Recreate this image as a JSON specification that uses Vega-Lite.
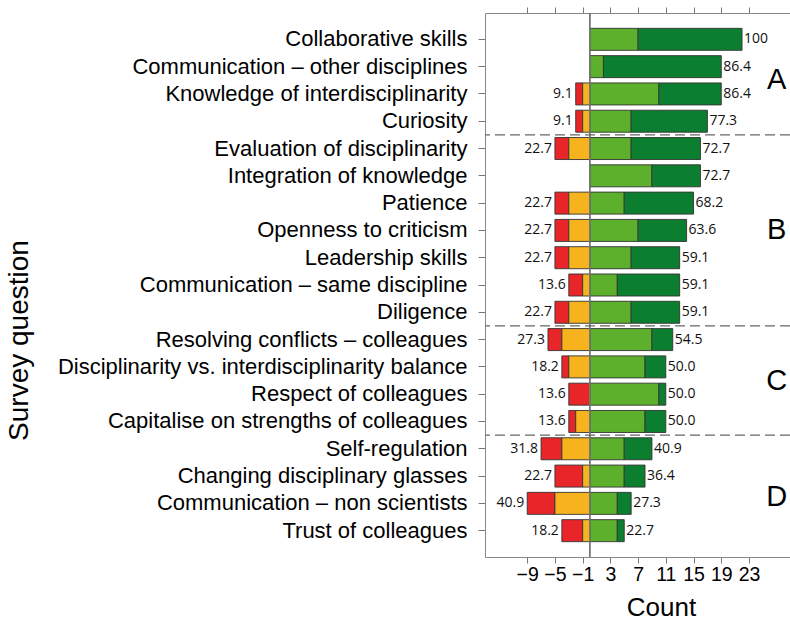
{
  "$schema": "https://vega.github.io/schema/vega-lite/v6.json",
  "width": 305,
  "height": 544,
  "autosize": {"type": "none"},
  "padding": {"left": 485, "top": 13, "right": 0, "bottom": 64},
  "config": {
    "view": {"stroke": null},
    "font": "Liberation Sans",
    "axis": {"grid": false}
  },
  "resolve": {"axis": {"x": "independent"}},
  "datasets": {
    "responses": [
      {"question": "Collaborative skills", "response": "Agree", "intensity": 1, "value": 7},
      {"question": "Collaborative skills", "response": "Strongly agree", "intensity": 2, "value": 15},
      {"question": "Communication – other disciplines", "response": "Agree", "intensity": 1, "value": 2},
      {"question": "Communication – other disciplines", "response": "Strongly agree", "intensity": 2, "value": 17},
      {"question": "Knowledge of interdisciplinarity", "response": "Strongly disagree", "intensity": 2, "value": -1},
      {"question": "Knowledge of interdisciplinarity", "response": "Disagree", "intensity": 1, "value": -1},
      {"question": "Knowledge of interdisciplinarity", "response": "Agree", "intensity": 1, "value": 10},
      {"question": "Knowledge of interdisciplinarity", "response": "Strongly agree", "intensity": 2, "value": 9},
      {"question": "Curiosity", "response": "Strongly disagree", "intensity": 2, "value": -1},
      {"question": "Curiosity", "response": "Disagree", "intensity": 1, "value": -1},
      {"question": "Curiosity", "response": "Agree", "intensity": 1, "value": 6},
      {"question": "Curiosity", "response": "Strongly agree", "intensity": 2, "value": 11},
      {"question": "Evaluation of disciplinarity", "response": "Strongly disagree", "intensity": 2, "value": -2},
      {"question": "Evaluation of disciplinarity", "response": "Disagree", "intensity": 1, "value": -3},
      {"question": "Evaluation of disciplinarity", "response": "Agree", "intensity": 1, "value": 6},
      {"question": "Evaluation of disciplinarity", "response": "Strongly agree", "intensity": 2, "value": 10},
      {"question": "Integration of knowledge", "response": "Agree", "intensity": 1, "value": 9},
      {"question": "Integration of knowledge", "response": "Strongly agree", "intensity": 2, "value": 7},
      {"question": "Patience", "response": "Strongly disagree", "intensity": 2, "value": -2},
      {"question": "Patience", "response": "Disagree", "intensity": 1, "value": -3},
      {"question": "Patience", "response": "Agree", "intensity": 1, "value": 5},
      {"question": "Patience", "response": "Strongly agree", "intensity": 2, "value": 10},
      {"question": "Openness to criticism", "response": "Strongly disagree", "intensity": 2, "value": -2},
      {"question": "Openness to criticism", "response": "Disagree", "intensity": 1, "value": -3},
      {"question": "Openness to criticism", "response": "Agree", "intensity": 1, "value": 7},
      {"question": "Openness to criticism", "response": "Strongly agree", "intensity": 2, "value": 7},
      {"question": "Leadership skills", "response": "Strongly disagree", "intensity": 2, "value": -2},
      {"question": "Leadership skills", "response": "Disagree", "intensity": 1, "value": -3},
      {"question": "Leadership skills", "response": "Agree", "intensity": 1, "value": 6},
      {"question": "Leadership skills", "response": "Strongly agree", "intensity": 2, "value": 7},
      {"question": "Communication – same discipline", "response": "Strongly disagree", "intensity": 2, "value": -2},
      {"question": "Communication – same discipline", "response": "Disagree", "intensity": 1, "value": -1},
      {"question": "Communication – same discipline", "response": "Agree", "intensity": 1, "value": 4},
      {"question": "Communication – same discipline", "response": "Strongly agree", "intensity": 2, "value": 9},
      {"question": "Diligence", "response": "Strongly disagree", "intensity": 2, "value": -2},
      {"question": "Diligence", "response": "Disagree", "intensity": 1, "value": -3},
      {"question": "Diligence", "response": "Agree", "intensity": 1, "value": 6},
      {"question": "Diligence", "response": "Strongly agree", "intensity": 2, "value": 7},
      {"question": "Resolving conflicts – colleagues", "response": "Strongly disagree", "intensity": 2, "value": -2},
      {"question": "Resolving conflicts – colleagues", "response": "Disagree", "intensity": 1, "value": -4},
      {"question": "Resolving conflicts – colleagues", "response": "Agree", "intensity": 1, "value": 9},
      {"question": "Resolving conflicts – colleagues", "response": "Strongly agree", "intensity": 2, "value": 3},
      {"question": "Disciplinarity vs. interdisciplinarity balance", "response": "Strongly disagree", "intensity": 2, "value": -1},
      {"question": "Disciplinarity vs. interdisciplinarity balance", "response": "Disagree", "intensity": 1, "value": -3},
      {"question": "Disciplinarity vs. interdisciplinarity balance", "response": "Agree", "intensity": 1, "value": 8},
      {"question": "Disciplinarity vs. interdisciplinarity balance", "response": "Strongly agree", "intensity": 2, "value": 3},
      {"question": "Respect of colleagues", "response": "Strongly disagree", "intensity": 2, "value": -3},
      {"question": "Respect of colleagues", "response": "Agree", "intensity": 1, "value": 10},
      {"question": "Respect of colleagues", "response": "Strongly agree", "intensity": 2, "value": 1},
      {"question": "Capitalise on strengths of colleagues", "response": "Strongly disagree", "intensity": 2, "value": -1},
      {"question": "Capitalise on strengths of colleagues", "response": "Disagree", "intensity": 1, "value": -2},
      {"question": "Capitalise on strengths of colleagues", "response": "Agree", "intensity": 1, "value": 8},
      {"question": "Capitalise on strengths of colleagues", "response": "Strongly agree", "intensity": 2, "value": 3},
      {"question": "Self-regulation", "response": "Strongly disagree", "intensity": 2, "value": -3},
      {"question": "Self-regulation", "response": "Disagree", "intensity": 1, "value": -4},
      {"question": "Self-regulation", "response": "Agree", "intensity": 1, "value": 5},
      {"question": "Self-regulation", "response": "Strongly agree", "intensity": 2, "value": 4},
      {"question": "Changing disciplinary glasses", "response": "Strongly disagree", "intensity": 2, "value": -4},
      {"question": "Changing disciplinary glasses", "response": "Disagree", "intensity": 1, "value": -1},
      {"question": "Changing disciplinary glasses", "response": "Agree", "intensity": 1, "value": 5},
      {"question": "Changing disciplinary glasses", "response": "Strongly agree", "intensity": 2, "value": 3},
      {"question": "Communication – non scientists", "response": "Strongly disagree", "intensity": 2, "value": -4},
      {"question": "Communication – non scientists", "response": "Disagree", "intensity": 1, "value": -5},
      {"question": "Communication – non scientists", "response": "Agree", "intensity": 1, "value": 4},
      {"question": "Communication – non scientists", "response": "Strongly agree", "intensity": 2, "value": 2},
      {"question": "Trust of colleagues", "response": "Strongly disagree", "intensity": 2, "value": -3},
      {"question": "Trust of colleagues", "response": "Disagree", "intensity": 1, "value": -1},
      {"question": "Trust of colleagues", "response": "Agree", "intensity": 1, "value": 4},
      {"question": "Trust of colleagues", "response": "Strongly agree", "intensity": 2, "value": 1}
    ],
    "summary": [
      {"question": "Collaborative skills", "disagree": 0, "agree": 22, "disagreePct": null, "agreePct": "100"},
      {"question": "Communication – other disciplines", "disagree": 0, "agree": 19, "disagreePct": null, "agreePct": "86.4"},
      {"question": "Knowledge of interdisciplinarity", "disagree": -2, "agree": 19, "disagreePct": "9.1", "agreePct": "86.4"},
      {"question": "Curiosity", "disagree": -2, "agree": 17, "disagreePct": "9.1", "agreePct": "77.3"},
      {"question": "Evaluation of disciplinarity", "disagree": -5, "agree": 16, "disagreePct": "22.7", "agreePct": "72.7"},
      {"question": "Integration of knowledge", "disagree": 0, "agree": 16, "disagreePct": null, "agreePct": "72.7"},
      {"question": "Patience", "disagree": -5, "agree": 15, "disagreePct": "22.7", "agreePct": "68.2"},
      {"question": "Openness to criticism", "disagree": -5, "agree": 14, "disagreePct": "22.7", "agreePct": "63.6"},
      {"question": "Leadership skills", "disagree": -5, "agree": 13, "disagreePct": "22.7", "agreePct": "59.1"},
      {"question": "Communication – same discipline", "disagree": -3, "agree": 13, "disagreePct": "13.6", "agreePct": "59.1"},
      {"question": "Diligence", "disagree": -5, "agree": 13, "disagreePct": "22.7", "agreePct": "59.1"},
      {"question": "Resolving conflicts – colleagues", "disagree": -6, "agree": 12, "disagreePct": "27.3", "agreePct": "54.5"},
      {"question": "Disciplinarity vs. interdisciplinarity balance", "disagree": -4, "agree": 11, "disagreePct": "18.2", "agreePct": "50.0"},
      {"question": "Respect of colleagues", "disagree": -3, "agree": 11, "disagreePct": "13.6", "agreePct": "50.0"},
      {"question": "Capitalise on strengths of colleagues", "disagree": -3, "agree": 11, "disagreePct": "13.6", "agreePct": "50.0"},
      {"question": "Self-regulation", "disagree": -7, "agree": 9, "disagreePct": "31.8", "agreePct": "40.9"},
      {"question": "Changing disciplinary glasses", "disagree": -5, "agree": 8, "disagreePct": "22.7", "agreePct": "36.4"},
      {"question": "Communication – non scientists", "disagree": -9, "agree": 6, "disagreePct": "40.9", "agreePct": "27.3"},
      {"question": "Trust of colleagues", "disagree": -4, "agree": 5, "disagreePct": "18.2", "agreePct": "22.7"}
    ],
    "separators": [
      {"question": "Evaluation of disciplinarity"},
      {"question": "Resolving conflicts – colleagues"},
      {"question": "Self-regulation"}
    ],
    "groups": [
      {"letter": "A", "question": "Knowledge of interdisciplinarity"},
      {"letter": "B", "question": "Openness to criticism"},
      {"letter": "C", "question": "Respect of colleagues"},
      {"letter": "D", "question": "Communication – non scientists"}
    ]
  },
  "encoding": {
    "y": {
      "field": "question",
      "type": "nominal",
      "scale": {
        "domain": ["Collaborative skills", "Communication – other disciplines", "Knowledge of interdisciplinarity", "Curiosity", "Evaluation of disciplinarity", "Integration of knowledge", "Patience", "Openness to criticism", "Leadership skills", "Communication – same discipline", "Diligence", "Resolving conflicts – colleagues", "Disciplinarity vs. interdisciplinarity balance", "Respect of colleagues", "Capitalise on strengths of colleagues", "Self-regulation", "Changing disciplinary glasses", "Communication – non scientists", "Trust of colleagues"],
        "paddingInner": 0,
        "paddingOuter": 0.465
      },
      "axis": {
        "title": "Survey question",
        "titleFontSize": 28,
        "titleFontWeight": "normal",
        "titleColor": "#000",
        "titleX": -452,
        "titleY": 327,
        "titleBaseline": "bottom",
        "labelFontSize": 22,
        "labelColor": "#000",
        "labelPadding": 11,
        "labelLimit": 500,
        "tickSize": 7,
        "tickColor": "#777",
        "domainColor": "#888"
      }
    }
  },
  "layer": [
    {
      "data": {"name": "responses"},
      "mark": {"type": "bar", "height": {"band": 0.806}, "stroke": "#333", "strokeWidth": 0.9},
      "encoding": {
        "x": {
          "field": "value",
          "type": "quantitative",
          "stack": "zero",
          "scale": {"domain": [-15.09, 28.92], "nice": false, "zero": false},
          "axis": {
            "orient": "bottom",
            "values": [-9, -5, -1, 3, 7, 11, 15, 19, 23],
            "title": "Count",
            "titleFontSize": 26,
            "titleFontWeight": "normal",
            "titleColor": "#000",
            "titleX": 176,
            "titleY": 58,
            "titleBaseline": "alphabetic",
            "labelFontSize": 19.5,
            "labelColor": "#000",
            "labelPadding": 2,
            "labelFlush": false,
            "labelOverlap": false,
            "tickSize": 6,
            "tickColor": "#777",
            "domainColor": "#888"
          }
        },
        "color": {
          "field": "response",
          "type": "nominal",
          "scale": {
            "domain": ["Strongly disagree", "Disagree", "Agree", "Strongly agree"],
            "range": ["#e8262a", "#f6b31e", "#5cb02b", "#0b7f2f"]
          },
          "legend": null
        },
        "order": {"field": "intensity", "type": "quantitative"}
      }
    },
    {
      "data": {"name": "summary"},
      "mark": {"type": "rule", "color": "#777", "strokeWidth": 1},
      "encoding": {
        "x": {"datum": 0, "type": "quantitative", "axis": {"orient": "top", "values": [-9, -5, -1, 3, 7, 11, 15, 19, 23], "labels": false, "title": null, "tickSize": 6, "tickColor": "#777", "domainColor": "#888"}},
        "y": null
      }
    },
    {
      "data": {"name": "summary"},
      "transform": [{"filter": "datum.disagreePct != null"}],
      "mark": {"type": "text", "align": "right", "baseline": "middle", "dx": -3, "font": "Open Sans", "fontSize": 14, "color": "#111"},
      "encoding": {
        "x": {"field": "disagree", "type": "quantitative", "axis": null},
        "text": {"field": "disagreePct"}
      }
    },
    {
      "data": {"name": "summary"},
      "mark": {"type": "text", "align": "left", "baseline": "middle", "dx": 2, "font": "Open Sans", "fontSize": 14, "color": "#111"},
      "encoding": {
        "x": {"field": "agree", "type": "quantitative", "axis": null},
        "text": {"field": "agreePct"}
      }
    },
    {
      "data": {"name": "separators"},
      "mark": {"type": "rule", "color": "#666", "strokeWidth": 1.3, "strokeDash": [10, 5]},
      "encoding": {
        "y": {"field": "question", "type": "nominal", "bandPosition": 0}
      }
    },
    {
      "data": {"name": "groups"},
      "transform": [{"filter": "datum.letter == 'A' || datum.letter == 'C'"}],
      "mark": {"type": "text", "align": "center", "baseline": "middle", "fontSize": 29, "color": "#000"},
      "encoding": {
        "x": {"datum": 27, "type": "quantitative", "axis": null},
        "y": {"field": "question", "type": "nominal", "bandPosition": 0},
        "text": {"field": "letter"}
      }
    },
    {
      "data": {"name": "groups"},
      "transform": [{"filter": "datum.letter == 'B'"}],
      "mark": {"type": "text", "align": "center", "baseline": "middle", "fontSize": 29, "color": "#000"},
      "encoding": {
        "x": {"datum": 27, "type": "quantitative", "axis": null},
        "y": {"field": "question", "type": "nominal", "bandPosition": 0.5},
        "text": {"field": "letter"}
      }
    },
    {
      "data": {"name": "groups"},
      "transform": [{"filter": "datum.letter == 'D'"}],
      "mark": {"type": "text", "align": "center", "baseline": "middle", "fontSize": 29, "color": "#000"},
      "encoding": {
        "x": {"datum": 27, "type": "quantitative", "axis": null},
        "y": {"field": "question", "type": "nominal", "bandPosition": 0.25},
        "text": {"field": "letter"}
      }
    }
  ]
}
